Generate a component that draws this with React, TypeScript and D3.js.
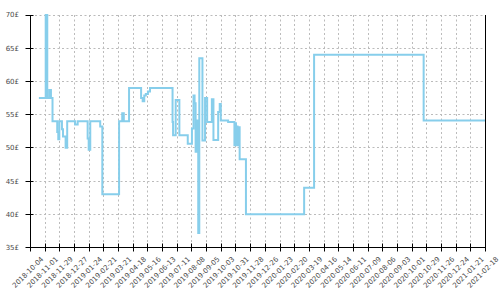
import React from "react";
import * as d3 from "d3";

const priceDates: string[] = [
  "2018-10-20", "2018-11-02", "2018-11-05", "2018-11-09", "2018-11-12", "2018-11-15",
  "2018-11-24", "2018-11-26", "2018-11-28", "2018-12-03", "2018-12-05", "2018-12-10",
  "2018-12-13", "2018-12-28", "2019-01-02", "2019-01-21", "2019-01-23", "2019-01-26",
  "2019-02-14", "2019-02-18", "2019-03-22", "2019-03-28", "2019-03-31", "2019-04-10",
  "2019-05-03", "2019-05-06", "2019-05-09", "2019-05-12", "2019-05-16", "2019-05-20",
  "2019-07-02", "2019-07-03", "2019-07-08", "2019-07-15", "2019-07-31", "2019-08-08",
  "2019-08-11", "2019-08-13", "2019-08-15", "2019-08-17", "2019-08-20", "2019-08-22",
  "2019-08-28", "2019-09-02", "2019-09-06", "2019-09-15", "2019-09-18", "2019-09-27",
  "2019-09-30", "2019-10-02", "2019-10-16", "2019-10-28", "2019-10-30", "2019-10-31",
  "2019-11-02", "2019-11-03", "2019-11-05", "2019-11-07", "2019-11-19", "2020-03-09",
  "2020-03-28", "2020-10-23", "2021-02-18",
];

const priceValues: number[] = [
  57.5, 70, 57.5, 58.7, 57.5, 54,
  52.4, 51.3, 54, 52.8, 51.7, 50,
  54, 53.5, 54, 51.4, 49.7, 54,
  53.2, 43, 54, 55.2, 54, 59,
  57.5, 57, 57.9, 58.1, 58.5, 59,
  53.9, 51.9, 57.2, 51.9, 50.6, 52.9,
  57.9, 56.7, 49.4, 54.1, 37.2, 63.5,
  51.1, 57.5, 53.9, 57.3, 51.2, 55.4,
  56.6, 54.1, 53.9, 50.4, 53.7, 50.5,
  53.2, 50.4, 53.1, 48.3, 40, 44,
  64, 54.1, 54.1,
];

const xTickLabels: string[] = [
  "2018-10-04", "2018-11-01", "2018-11-29", "2018-12-27", "2019-01-24", "2019-02-21",
  "2019-03-21", "2019-04-18", "2019-05-16", "2019-06-13", "2019-07-11", "2019-08-08",
  "2019-09-05", "2019-10-03", "2019-10-31", "2019-11-28", "2019-12-26", "2020-01-23",
  "2020-02-20", "2020-03-19", "2020-04-16", "2020-05-14", "2020-06-11", "2020-07-09",
  "2020-08-06", "2020-09-03", "2020-10-01", "2020-10-29", "2020-11-26", "2020-12-24",
  "2021-01-21", "2021-02-18",
];

const yTickValues: number[] = [35, 40, 45, 50, 55, 60, 65, 70];
const currency = "£";

const W = 500;
const H = 300;
const left = 30.5;
const right = 485.5;
const top = 15;
const bottom = 247.5;

const parse = d3.utcParse("%Y-%m-%d");

export default function App() {
  const xTicks = xTickLabels.map((s) => parse(s) as Date);
  const x = d3
    .scaleUtc()
    .domain([xTicks[0], xTicks[xTicks.length - 1]])
    .range([left, right]);
  const y = d3.scaleLinear().domain([35, 70]).range([bottom, top]);

  const data = priceDates.map((d, i) => ({ date: parse(d) as Date, value: priceValues[i] }));
  const line = d3
    .line<{ date: Date; value: number }>()
    .x((d) => x(d.date))
    .y((d) => y(d.value))
    .curve(d3.curveStepAfter);

  const crisp = (v: number) => Math.round(v - 0.5) + 0.5;
  const font = "'DejaVu Sans', Verdana, sans-serif";

  return (
    <div style={{ position: "fixed", left: 0, top: 0, width: W, height: H, background: "#fff" }}>
      <svg width={W} height={H} style={{ display: "block" }}>
        <rect width={W} height={H} fill="#fff" />
        {/* grid */}
        <g stroke="#bbb" strokeWidth={1} strokeDasharray="2,2.5">
          {xTicks.map((t, i) => (
            <line key={"gx" + i} x1={crisp(x(t))} x2={crisp(x(t))} y1={top} y2={bottom} />
          ))}
          {yTickValues.map((v, i) => (
            <line key={"gy" + i} x1={left} x2={right} y1={crisp(y(v))} y2={crisp(y(v))} />
          ))}
        </g>
        {/* line */}
        <path d={line(data) || ""} fill="none" stroke="#87ceeb" strokeWidth={2} />
        {/* axes */}
        <g stroke="#000" strokeWidth={1}>
          <line x1={left} x2={left} y1={top} y2={bottom} />
          <line x1={crisp(right)} x2={crisp(right)} y1={top} y2={bottom} />
          <line x1={left} x2={right} y1={bottom} y2={bottom} />
          {yTickValues.map((v, i) => (
            <line key={"ty" + i} x1={left - 5} x2={left + 3} y1={crisp(y(v))} y2={crisp(y(v))} />
          ))}
          {xTicks.map((t, i) => (
            <line key={"tx" + i} x1={crisp(x(t))} x2={crisp(x(t))} y1={bottom - 4} y2={bottom + 4} />
          ))}
        </g>
        {/* labels */}
        <g fill="#4a4a4a" fontFamily={font} fontSize={7}>
          {yTickValues.map((v, i) => (
            <text key={"ly" + i} x={left - 11.5} y={y(v)} dy="0.35em" textAnchor="end">
              {v + currency}
            </text>
          ))}
          {xTicks.map((t, i) => (
            <text
              key={"lx" + i}
              textAnchor="end"
              transform={`translate(${x(t) + 13.5},${bottom + 12}) rotate(-45)`}
            >
              {xTickLabels[i]}
            </text>
          ))}
        </g>
      </svg>
    </div>
  );
}
